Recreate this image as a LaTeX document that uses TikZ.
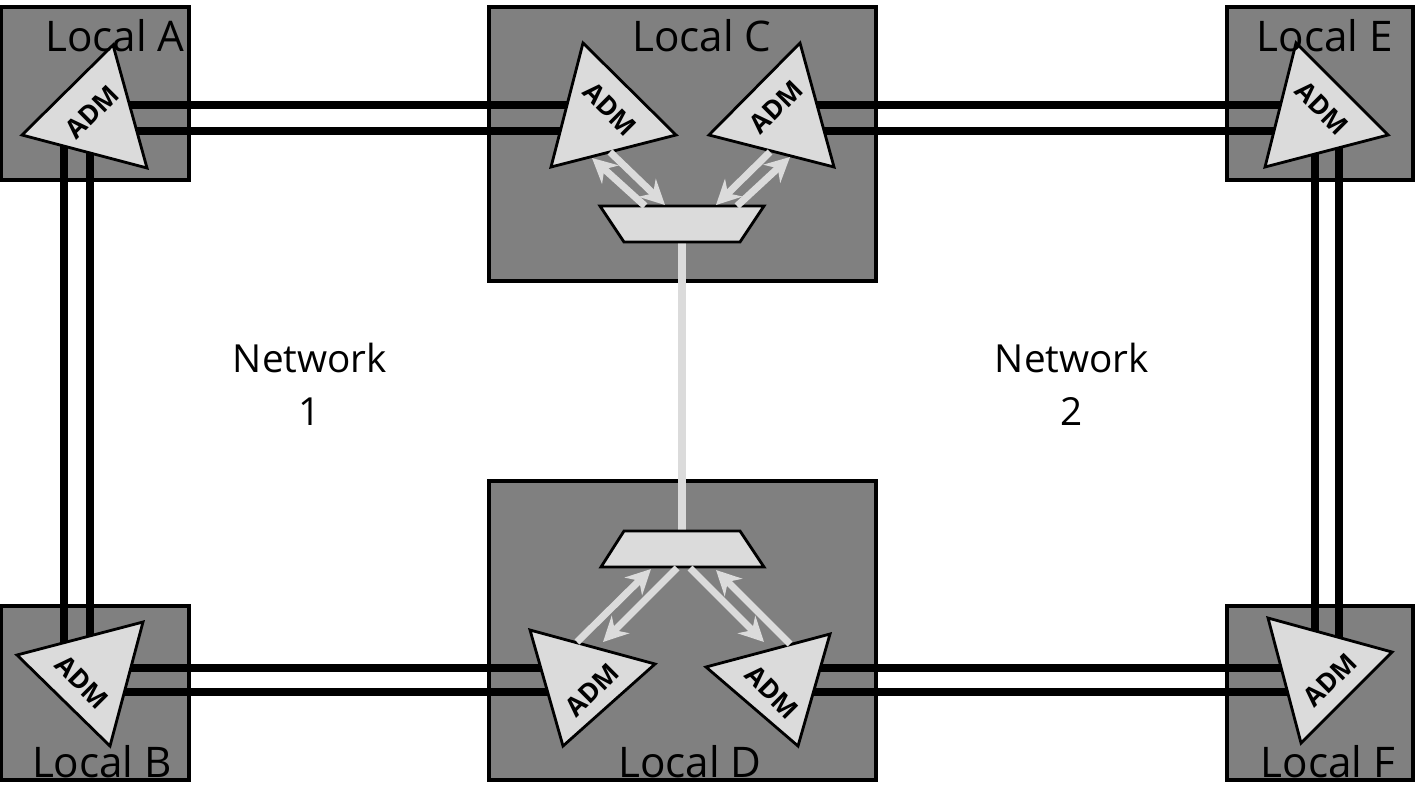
\documentclass[tikz,border=0pt]{standalone}
\usepackage{fontspec}
\setmainfont{Open Sans}
\usetikzlibrary{arrows.meta,positioning}
\definecolor{boxgray}{gray}{0.5}
\definecolor{admgray}{gray}{0.86}
\tikzset{
  site/.style={draw=black,line width=1pt,fill=boxgray},
  adm/.style={draw=black,line width=0.8pt,fill=admgray},
  trunk/.style={line width=2.4pt,black},
  link/.style={line width=2pt,admgray,-{Stealth[length=7pt,width=7pt]}},
  lbl/.style={font=\fontsize{12}{14}\selectfont,inner sep=1pt},
  admlbl/.style={font=\bfseries\fontsize{7.5}{9}\selectfont,inner sep=1pt},
  netlbl/.style={font=\fontsize{11}{13}\selectfont,align=center}
}
\begin{document}
\begin{tikzpicture}[x=0.01cm,y=-0.01cm]
	\useasboundingbox (0,0) rectangle (1419,806);
	% sites
	\draw[site] (1,7) rectangle (189,180);
	\draw[site] (489,7) rectangle (876,281);
	\draw[site] (1227,7) rectangle (1413,180);
	\draw[site] (1,606) rectangle (189,780);
	\draw[site] (489,481) rectangle (876,780);
	\draw[site] (1227,606) rectangle (1413,780);

	% trunk end points
	\coordinate (a1) at (100,105); \coordinate (c1) at (600,105);
	\coordinate (a2) at (100,131); \coordinate (c2) at (600,131);
	\coordinate (c3) at (780,105); \coordinate (e1) at (1320,105);
	\coordinate (c4) at (780,131); \coordinate (e2) at (1320,131);
	\coordinate (a3) at (64,120); \coordinate (b1) at (64,660);
	\coordinate (a4) at (90,120); \coordinate (b2) at (90,660);
	\coordinate (e3) at (1315,120); \coordinate (f1) at (1315,660);
	\coordinate (e4) at (1339,120); \coordinate (f2) at (1339,660);
	\coordinate (b3) at (100,668); \coordinate (d1) at (600,668);
	\coordinate (b4) at (100,692); \coordinate (d2) at (600,692);
	\coordinate (d3) at (780,668); \coordinate (f3) at (1320,668);
	\coordinate (d4) at (780,692); \coordinate (f4) at (1320,692);
	\foreach \p/\q in {a1/c1,a2/c2,c3/e1,c4/e2,a3/b1,a4/b2,e3/f1,e4/f2,b3/d1,b4/d2,d3/f3,d4/f4}
		\draw[trunk] (\p) -- (\q);

	% link between the two multiplexers
	\coordinate (muxC) at (682,242);
	\coordinate (muxD) at (682,531);
	\draw[line width=2.4pt,admgray] (muxC) -- (muxD);

	% ADMs
	\draw[adm] (22,135) -- (113,45) -- (147,168) -- cycle;
	\draw[adm] (551,167) -- (583,43) -- (676,135) -- cycle;
	\draw[adm] (709,135) -- (800,43) -- (834,167) -- cycle;
	\draw[adm] (1265,167) -- (1296,43) -- (1388,135) -- cycle;
	\draw[adm] (17,655) -- (143,622) -- (110,746) -- cycle;
	\draw[adm] (530,630) -- (655,664) -- (563,746) -- cycle;
	\draw[adm] (706,667) -- (830,634) -- (798,746) -- cycle;
	\draw[adm] (1268,618) -- (1392,652) -- (1301,743) -- cycle;
	\node[admlbl,rotate=45]  (admA)  at (92,112)   {ADM};
	\node[admlbl,rotate=-45] (admC1) at (610,109)  {ADM};
	\node[admlbl,rotate=45]  (admC2) at (776,107)  {ADM};
	\node[admlbl,rotate=-45] (admE)  at (1322,108) {ADM};
	\node[admlbl,rotate=-45] (admB)  at (82,682)   {ADM};
	\node[admlbl,rotate=45]  (admD1) at (592,690)  {ADM};
	\node[admlbl,rotate=-45] (admD2) at (772,692)  {ADM};
	\node[admlbl,rotate=45]  (admF)  at (1330,680) {ADM};

	% multiplexers
	\draw[adm] (600,206) -- (764,206) -- (740,242) -- (624,242) -- cycle;
	\draw[adm] (624,531) -- (740,531) -- (764,567) -- (601,567) -- cycle;

	% drop links
	\draw[link] (645,206) -- (592,158);
	\draw[link] (610,152) -- (665,205);
	\draw[link] (770,152) -- (716,205);
	\draw[link] (737,206) -- (790,157);
	\draw[link] (577,642) -- (651,569);
	\draw[link] (677,568) -- (603,642);
	\draw[link] (690,568) -- (764,642);
	\draw[link] (790,644) -- (716,570);

	% labels
	\node[lbl] (locA) at (115,36)  {Local A};
	\node[lbl] (locC) at (702,36)  {Local C};
	\node[lbl] (locE) at (1325,36) {Local E};
	\node[lbl] (locB) at (102,762) {Local B};
	\node[lbl] (locD) at (690,762) {Local D};
	\node[lbl] (locF) at (1328,762) {Local F};
	\node[netlbl] (net1) at (310,384) {Network\\[2pt]1};
	\node[netlbl] (net2) at (1072,384) {Network\\[2pt]2};
\end{tikzpicture}
\end{document}
